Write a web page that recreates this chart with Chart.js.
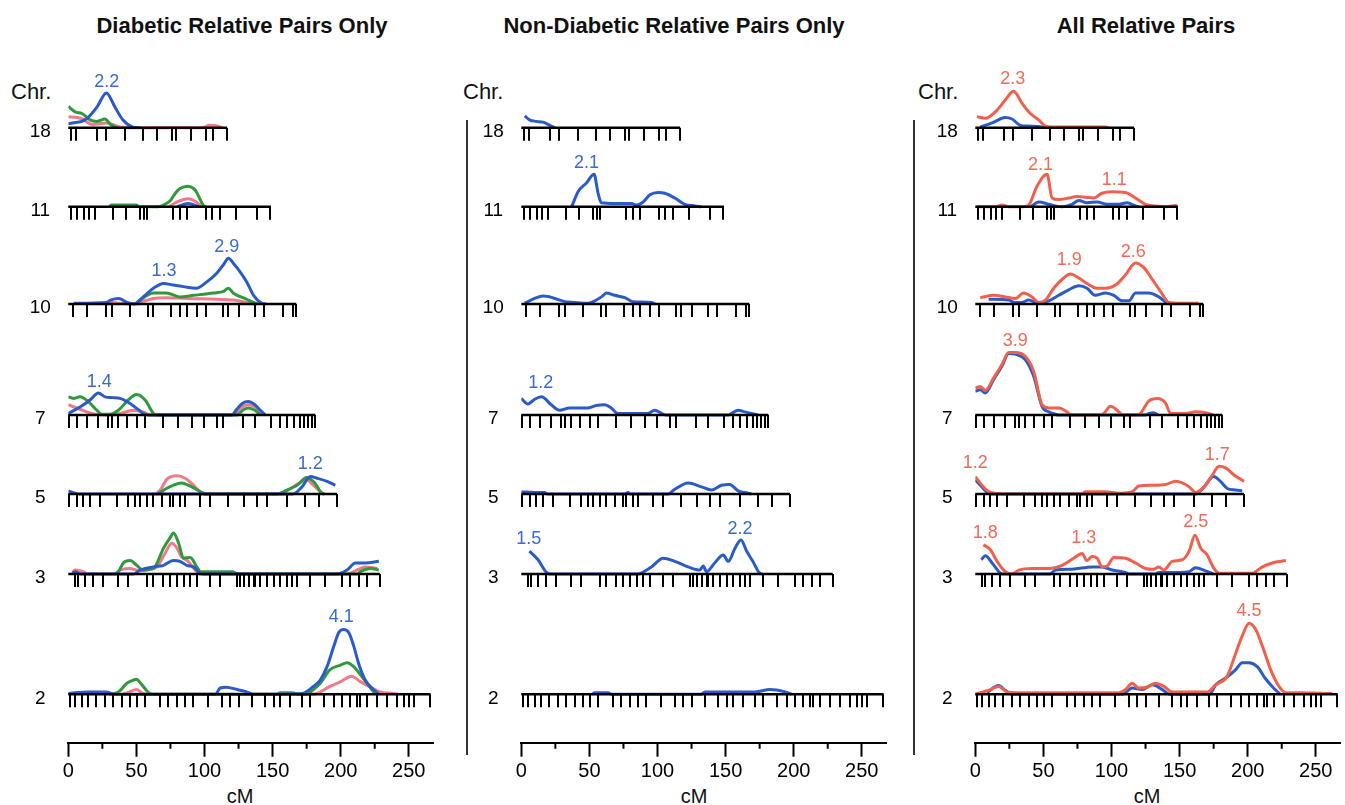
<!DOCTYPE html>
<html lang="en">
<head>
<meta charset="utf-8">
<script src="https://cdn.jsdelivr.net/npm/chart.js@4.4.1/dist/chart.umd.min.js"></script>
<style>
  html, body { margin: 0; padding: 0; background: #fff; }
  body { position: relative; width: 1345px; height: 805px; overflow: hidden;
         font-family: "Liberation Sans", Arial, sans-serif; color: #111; }
  canvas { position: absolute; top: 0; }
  .title { position: absolute; top: 13px; width: 500px; text-align: center;
           font-weight: bold; font-size: 22px; line-height: 26px; }
  .chr { position: absolute; top: 80px; font-size: 22px; line-height: 24px; }
  .cm { position: absolute; top: 785px; width: 60px; text-align: center; font-size: 20px; line-height: 22px; }
  .sep { position: absolute; top: 120px; width: 2px; height: 635px; background: #333; }
</style>
</head>
<body>
<div class="title" style="left:-8px">Diabetic Relative Pairs Only</div>
<div class="title" style="left:424px">Non-Diabetic Relative Pairs Only</div>
<div class="title" style="left:896px">All Relative Pairs</div>
<div class="chr" style="left:11px">Chr.</div>
<div class="chr" style="left:463px">Chr.</div>
<div class="chr" style="left:918px">Chr.</div>
<div class="cm" style="left:210px">cM</div>
<div class="cm" style="left:664px">cM</div>
<div class="cm" style="left:1117px">cM</div>
<div class="sep" style="left:466px"></div>
<div class="sep" style="left:913px"></div>
<canvas id="c1" width="453" height="805" style="left:0px"></canvas>
<canvas id="c2" width="453" height="805" style="left:453.4px"></canvas>
<canvas id="c3" width="453" height="805" style="left:906.7px"></canvas>
<script>
// chromosomes, lengths (cM) and marker positions (cM)
const chromosomes = ['18', '11', '10', '7', '5', '3', '2'];
const chrLength = [116.5, 148.8, 167.4, 181.4, 197.3, 228.7, 266];
const markers18 = [1.7, 5.6, 21.3, 27.7, 41.7, 54.7, 65, 76, 79.2, 90, 101.2, 106.6, 116.4];
const markers11 = [1.7, 6.6, 11.5, 15.4, 19.6, 33.1, 42.4, 52.7, 55.6, 58.1, 77.2, 82.1, 87, 101.2, 105.6, 111.5, 123.3, 138.5, 148.3];
const markers10 = [3.2, 13.5, 27.7, 31.9, 45.3, 58.8, 62.5, 75.2, 82.1, 87, 94.4, 101.2, 113.5, 117.6, 125.7, 137.3, 143.4, 157.6, 165, 167.4];
const markers7 = [0.7, 6.6, 14, 22, 29.4, 31.9, 36.8, 42.9, 50.2, 56.4, 69.9, 80.9, 90.7, 99.3, 109, 113.5, 128.2, 137.3, 148.8, 155.6, 160.5, 165.9, 169.8, 173.3, 175.7, 178.9, 181.4];
const markers5 = [0.5, 6.1, 11, 15.9, 23.3, 35.5, 44.1, 49, 52.7, 57.6, 62.5, 68.6, 74.8, 77.2, 82.1, 85.8, 96.8, 104.2, 117.2, 128.7, 138.5, 145.8, 160.5, 174, 183.8, 197.3];
const markers3 = [4.9, 6.9, 12.3, 18.4, 25.7, 36.8, 44.1, 57.6, 62.5, 69.9, 74.8, 79.7, 84.6, 89.5, 94.4, 104.2, 111.5, 123.8, 126.2, 128.7, 132.4, 136, 137.3, 140.9, 145.8, 150.7, 155.6, 160.5, 164.2, 167.9, 177.7, 188.7, 201, 207.1, 213.2, 219.4, 228.7];
const markers2 = [1.2, 4.9, 9.8, 14.7, 20.3, 26.9, 33.1, 39.2, 45.3, 50.2, 56.4, 67.4, 73.5, 79.7, 85.8, 91.9, 102.9, 112.7, 118.9, 125, 134.8, 144.6, 150.7, 155.6, 163, 171.6, 177.7, 187.5, 194.9, 201, 207.1, 212, 214.5, 219.4, 226.7, 234.1, 241.4, 246.3, 250, 253.7, 265.9];

// bottom cM axis
const cmTicks = [0, 50, 100, 150, 200, 250];
const cmMinorTicks = [25, 75, 125, 175, 225];

// LOD curves, [cM, LOD] — diabetic relative pairs
const dBlue18 = [[0, 0.25], [3, 0.3], [10, 0.4], [14, 0.6], [21, 1.3], [28, 2.2], [34, 1.35], [40, 0.5], [47, 0.05], [52, 0]];
const dGreen18 = [[0, 1.35], [5, 1.0], [10, 0.9], [16, 0.5], [21, 0.4], [27, 0.55], [31, 0.2], [36, 0]];
const dPink18 = [[0, 0.7], [9, 0.6], [18, 0.2], [28, 0.3], [38, 0.05], [45, 0], [98, 0], [104, 0.15], [110, 0.1], [113, 0]];
const dBlue11 = [[80, 0], [88, 0.2], [96, 0]];
const dGreen11 = [[30, 0], [32, 0.1], [50, 0.1], [52, 0], [66, 0], [72, 0.2], [75, 0.4], [79, 0.9], [82, 1.15], [88, 1.3], [92, 1.15], [94, 0.95], [99, 0.1], [101, 0]];
const dPink11 = [[74, 0], [80, 0.3], [88, 0.5], [94, 0.3], [98, 0]];
const dBlue10 = [[4, 0.05], [28, 0.1], [31, 0.25], [37, 0.35], [43, 0.1], [48, 0], [55, 0.45], [62.5, 1.0], [70, 1.3], [77, 1.2], [84.5, 1.1], [94, 1.0], [101.7, 1.4], [109, 1.95], [114, 2.5], [117.6, 2.9], [121, 2.6], [126, 2.05], [131, 1.4], [136, 0.55], [142, 0.05], [145, 0]];
const dGreen10 = [[50, 0], [53, 0.25], [62.5, 0.7], [72, 0.7], [82, 0.45], [92, 0.55], [106.6, 0.7], [114, 0.8], [117.6, 1.0], [121, 0.7], [131, 0.3], [136, 0.1], [139, 0]];
const dPink10 = [[28, 0], [32, 0.1], [36, 0.05], [50, 0], [53, 0.1], [62.5, 0.35], [72, 0.4], [87, 0.35], [109, 0.3], [121, 0.25], [131, 0.1], [136, 0]];
const dBlue7 = [[0, 0.1], [8.6, 0.5], [16, 0.95], [22, 1.4], [27, 1.15], [33, 1.1], [38, 1.05], [43, 0.85], [49, 0.5], [55, 0.1], [58, 0], [120, 0], [124, 0.4], [128, 0.75], [132, 0.85], [137, 0.65], [141, 0.3], [144.6, 0]];
const dGreen7 = [[0, 1.15], [3.7, 1.05], [8.6, 1.15], [14.7, 0.85], [21, 0.3], [24.5, 0.05], [30.6, 0.05], [36.8, 0.3], [44, 0.95], [50.2, 1.3], [56.4, 0.95], [62.5, 0.1], [65, 0], [124, 0], [128, 0.3], [132, 0.45], [137, 0.3], [141, 0]];
const dPink7 = [[0, 0.65], [6, 0.45], [13.5, 0.2], [20, 0.05], [30, 0], [38, 0.1], [47.8, 0.3], [55, 0.2], [60, 0], [122, 0], [126, 0.4], [132, 0.65], [138, 0.45], [142, 0]];
const dBlue5 = [[0, 0.2], [5, 0.05], [8, 0], [165, 0], [171.6, 0.45], [177.7, 1.1], [182.6, 1.0], [190, 0.8], [196, 0.55]];
const dGreen5 = [[66, 0], [72, 0.35], [77, 0.55], [83, 0.7], [90.7, 0.45], [98, 0.1], [101, 0], [153, 0], [160.5, 0.25], [168, 0.55], [175, 1.05], [181, 0.7], [186, 0.05], [188, 0]];
const dPink5 = [[64, 0], [68, 0.3], [72, 0.9], [79.7, 1.15], [85.8, 1.0], [92, 0.55], [96.8, 0.15], [100, 0], [155.6, 0], [163, 0.35], [170, 0.7], [175, 0.9], [180, 0.55], [185, 0.15], [188, 0]];
const dBlue3 = [[3, 0.05], [5, 0.15], [9, 0], [48, 0], [52.7, 0.25], [62.5, 0.45], [70, 0.55], [77, 0.85], [82, 0.8], [87, 0.55], [92, 0.45], [96.8, 0.05], [100, 0], [197, 0], [204.7, 0.25], [210.8, 0.7], [218, 0.7], [228, 0.8]];
const dGreen3 = [[34, 0], [36.8, 0.15], [40.4, 0.7], [45.3, 0.85], [50.2, 0.55], [55, 0.25], [62.5, 0.35], [70, 1.65], [74.8, 2.3], [77.2, 2.6], [81, 1.95], [84.6, 1.0], [89.5, 1.05], [94.4, 0.45], [97, 0.15], [121, 0.15], [124, 0], [212, 0], [214.5, 0.15], [222, 0.35], [228, 0.25]];
const dPink3 = [[3, 0.1], [5, 0.25], [11, 0.15], [14, 0], [34, 0], [38, 0.25], [45, 0.35], [52.7, 0.2], [60, 0.3], [65, 0.45], [71, 1.3], [76, 1.95], [79.7, 1.65], [83, 1.1], [88, 0.8], [93, 0.25], [97, 0], [205, 0], [209.5, 0.15], [218, 0.45], [227, 0.35]];
const dBlue2 = [[0, 0.05], [14.7, 0.15], [28, 0.15], [34, 0], [108, 0], [111.5, 0.4], [116, 0.45], [124, 0.3], [131, 0.15], [136, 0], [171.6, 0.05], [180, 0.5], [185, 0.9], [190, 1.75], [195, 3.05], [198.5, 3.9], [202, 4.1], [206, 3.9], [209.6, 3.05], [213, 2.0], [218, 0.9], [224, 0.3], [228, 0]];
const dGreen2 = [[30, 0], [36.8, 0.15], [43, 0.7], [47.8, 0.9], [50, 0.95], [54, 0.6], [59, 0.1], [62, 0], [153, 0], [155.6, 0.1], [164, 0.1], [170, 0], [175, 0], [180, 0.3], [185, 0.7], [192, 1.55], [200, 1.85], [204.7, 2.0], [209.6, 1.75], [215.7, 1.1], [222, 0.4], [225.5, 0]];
const dPink2 = [[40, 0], [45, 0.15], [50, 0.3], [55, 0.05], [58, 0], [178, 0], [182.6, 0.05], [192, 0.5], [200, 0.8], [208, 1.15], [214.5, 0.8], [222, 0.45], [229, 0.15], [239, 0.05], [242, 0]];

// non-diabetic relative pairs
const nBlue18 = [[2.5, 0.75], [6, 0.5], [11, 0.4], [16, 0.35], [21, 0.15], [24.5, 0]];
const nBlue11 = [[37, 0], [41.7, 0.95], [47.8, 1.5], [53.4, 2.05], [56.4, 0.85], [58.8, 0.25], [68.6, 0.2], [81, 0.2], [84.6, 0.1], [89.5, 0.3], [94.4, 0.75], [100.5, 0.9], [105.4, 0.85], [112.7, 0.55], [120, 0.15], [127.5, 0.05], [132, 0]];
const nBlue10 = [[2.5, 0.05], [9.8, 0.35], [16, 0.5], [23, 0.4], [32, 0.15], [39, 0.1], [49, 0.05], [54, 0.2], [58.8, 0.45], [62.5, 0.7], [68.6, 0.55], [76, 0.4], [82, 0.15], [95.6, 0.1], [98, 0]];
const nBlue7 = [[0, 1.05], [4.9, 0.7], [9.8, 1.0], [14.7, 1.15], [22, 0.65], [28, 0.3], [35.5, 0.45], [49, 0.45], [55, 0.6], [61, 0.65], [66, 0.45], [71, 0.1], [93, 0.1], [98, 0.3], [103, 0.1], [106, 0], [152, 0], [154.4, 0.1], [159.3, 0.3], [164, 0.2], [171.6, 0.05], [174, 0]];
const nBlue5 = [[0, 0.15], [9.8, 0.1], [17, 0.1], [19, 0], [76, 0], [78.4, 0.1], [80, 0], [107.8, 0], [112.7, 0.3], [122.5, 0.7], [132.4, 0.45], [139.7, 0.25], [147, 0.55], [153, 0.6], [159.3, 0.2], [166.7, 0.05], [169, 0]];
const nBlue3 = [[6, 1.45], [12.3, 0.9], [18.4, 0.1], [21, 0], [86, 0], [88, 0.05], [95.6, 0.45], [104.2, 1.0], [112.7, 0.8], [122.5, 0.45], [131, 0.25], [133.6, 0.5], [136, 0.15], [142, 0.7], [148.3, 1.2], [152, 0.8], [157, 1.65], [161.3, 2.15], [165.4, 1.45], [170, 0.8], [175, 0.05], [177, 0]];
const nBlue2 = [[52, 0], [54, 0.1], [63.7, 0.1], [66, 0], [132, 0], [134.8, 0.15], [171.6, 0.15], [182.6, 0.3], [193.6, 0.15], [198.5, 0]];

// all relative pairs
const aRed18 = [[1.2, 0.7], [7.4, 0.6], [14.7, 1.0], [22, 1.75], [28.2, 2.3], [34.3, 1.55], [40.4, 0.9], [46.6, 0.5], [51.5, 0.1], [56, 0.05], [95.6, 0.05], [98, 0]];
const aBlue18 = [[3.7, 0.05], [12.3, 0.3], [22, 0.65], [27, 0.55], [33, 0.15], [39, 0.1], [49, 0.05], [52, 0]];
const aRed11 = [[1.2, 0], [15, 0], [19.6, 0.1], [25, 0], [35, 0], [39.2, 0.1], [45.3, 1.3], [52.7, 2.05], [56.4, 0.55], [61.3, 0.45], [68.6, 0.55], [74.8, 0.65], [81, 0.6], [87, 0.55], [93, 0.85], [100.5, 0.95], [110.3, 0.9], [117.6, 0.55], [125, 0.15], [132, 0.05], [139.7, 0], [145, 0.05], [148, 0.1]];
const aBlue11 = [[41, 0], [46.6, 0.3], [54, 0.15], [63.7, 0], [71, 0.15], [76, 0.4], [82, 0.25], [89.5, 0.3], [96.8, 0.15], [105.4, 0.15], [111.5, 0.25], [117.6, 0.05], [120, 0]];
const aRed10 = [[3.7, 0.4], [13.5, 0.55], [22, 0.45], [29.4, 0.35], [35.5, 0.7], [41.7, 0.45], [46.6, 0.1], [51.5, 0.25], [57.6, 1.0], [63.7, 1.55], [69.9, 1.9], [76, 1.65], [82, 1.3], [89.5, 1.0], [95.6, 1.0], [103, 1.2], [110.3, 1.85], [117.6, 2.6], [123.8, 2.3], [130, 1.55], [136, 0.8], [142, 0.1], [150, 0.05], [164, 0.05]];
const aBlue10 = [[9.8, 0.3], [24.5, 0.25], [29, 0.1], [34, 0.1], [39.2, 0.25], [46, 0.05], [54, 0.2], [61.3, 0.55], [68.6, 0.9], [76, 1.15], [82, 1.0], [88, 0.55], [95.6, 0.7], [101.7, 0.55], [107.8, 0.2], [112.7, 0.2], [117.6, 0.7], [127.5, 0.7], [134.8, 0.45], [141, 0.05], [144, 0]];
const aRed7 = [[0, 1.7], [3.7, 1.8], [7.4, 1.55], [13.5, 2.35], [19.6, 3.2], [24.5, 3.95], [29.4, 3.95], [36.8, 3.7], [42.9, 2.75], [49, 0.65], [54, 0.45], [61.3, 0.45], [67.4, 0.2], [70, 0], [92, 0], [94.4, 0.1], [99.3, 0.55], [105.4, 0.2], [108, 0], [119, 0], [121.3, 0.1], [127.5, 0.9], [133.6, 1.05], [139.7, 0.75], [143.4, 0.1], [154.4, 0.1], [161.8, 0.2], [169, 0.15], [175, 0]];
const aBlue7 = [[0, 1.5], [3.7, 1.6], [7.4, 1.4], [13.5, 2.25], [19.6, 3.1], [24.5, 3.9], [29.4, 3.85], [36.8, 3.5], [42.9, 2.45], [49, 0.55], [54, 0.2], [58.8, 0.05], [61, 0], [125, 0], [127.5, 0.1], [131, 0.15], [134, 0]];
const aRed5 = [[0, 1.1], [4.9, 0.55], [9.8, 0.15], [14, 0.05], [20, 0], [78, 0], [80.9, 0.15], [95.6, 0.15], [105.4, 0.05], [115.2, 0.15], [120, 0.5], [130, 0.55], [139.7, 0.6], [147, 0.8], [152, 0.7], [157, 0.45], [161.8, 0.1], [168, 0.45], [174, 1.2], [179, 1.75], [183.8, 1.65], [190, 1.2], [197.3, 0.8]];
const aBlue5 = [[0, 0.9], [4.9, 0.45], [8.6, 0.1], [11, 0], [161.8, 0], [168, 0.45], [175, 1.1], [180, 0.8], [185, 0.35], [191, 0.25], [196, 0.2]];
const aRed3 = [[6, 1.85], [11, 1.55], [16, 0.8], [22, 0.15], [27, 0], [32, 0.25], [41.7, 0.35], [54, 0.35], [63.7, 0.55], [72.3, 1.0], [78.4, 1.3], [82, 0.85], [85.8, 1.1], [89.5, 1.0], [93, 0.45], [96.8, 0.5], [101.7, 1.05], [110.3, 1.0], [117.6, 0.7], [125, 0.35], [131, 0.3], [134.8, 0.45], [138.5, 0.25], [144.6, 0.8], [152, 0.9], [157, 1.45], [161.3, 2.45], [165.4, 1.65], [170.3, 1.2], [175.2, 0.35], [179, 0.05], [203.4, 0.05], [210.8, 0.45], [218, 0.7], [228, 0.85]];
const aBlue3 = [[4.4, 0.9], [7.4, 1.15], [12.3, 0.7], [18.4, 0.05], [20, 0], [55, 0], [58.8, 0.25], [71, 0.3], [85.8, 0.45], [93, 0.45], [100.5, 0.25], [110, 0.1], [113, 0], [132, 0], [134.8, 0.1], [150, 0.1], [157, 0.15], [161.8, 0.4], [169, 0.2], [175, 0]];
const aRed2 = [[0, 0], [11, 0.3], [17, 0.5], [23.3, 0.15], [30, 0.1], [68.6, 0.1], [105.4, 0.1], [110.3, 0.3], [115.2, 0.7], [120, 0.4], [126.2, 0.45], [132.4, 0.7], [138.5, 0.5], [144.6, 0.15], [157, 0.15], [170.3, 0.15], [176.5, 0.6], [185, 1.15], [190, 2.3], [196, 3.7], [201, 4.5], [205.9, 4.1], [210.8, 3.05], [216.9, 1.55], [223, 0.5], [228, 0.1], [237.7, 0.1], [262, 0.05]];
const aBlue2 = [[8.6, 0.1], [17, 0.55], [22, 0.25], [27, 0], [107.8, 0], [115.2, 0.4], [122.5, 0.3], [130, 0.6], [137.3, 0.3], [143, 0], [172, 0], [176.5, 0.6], [185, 1.1], [191, 1.55], [196, 2.0], [201, 2.0], [207, 1.75], [213, 1.0], [219, 0.4], [224, 0]];

// peak labels: [chromosome, cM, LOD, text]
const dLabels = [['18', 28.2, 2.1, '2.2'], ['10', 70.3, 1.34, '1.3'], ['10', 116.4, 2.87, '2.9'], ['7', 22.8, 1.33, '1.4'], ['5', 177.7, 1.15, '1.2'], ['2', 200.5, 4.1, '4.1']];
const nLabels = [['11', 47.8, 2.0, '2.1'], ['7', 14.2, 1.25, '1.2'], ['3', 5.4, 1.45, '1.5'], ['3', 160.5, 2.1, '2.2']];
const aLabels = [['18', 27.5, 2.3, '2.3'], ['11', 47.8, 1.9, '2.1'], ['11', 102, 0.9, '1.1'], ['10', 69, 2.0, '1.9'], ['10', 116, 2.55, '2.6'], ['7', 29.4, 3.95, '3.9'], ['5', 0, 1.2, '1.2'], ['5', 177.7, 1.7, '1.7'], ['3', 7.3, 1.85, '1.8'], ['3', 79.6, 1.5, '1.3'], ['3', 161.8, 2.55, '2.5'], ['2', 201, 4.5, '4.5']];

// layout
const BLUE = '#2b5bc8', GREEN = '#2f9a3c', PINK = '#f07a8a', RED = '#f0604c';
const BLUE_TEXT = '#3a6ad2', RED_TEXT = '#f26a55';
const FONT = '"Liberation Sans", Arial, sans-serif';
const PX_PER_LOD = 15.8;
const AXIS_Y = 742.7;
const trackY = [127.7, 206.7, 304, 415, 494, 574, 694.3];
const offsets = trackY.map(y => (AXIS_Y - y) / PX_PER_LOD);
const markerSets = [markers18, markers11, markers10, markers7, markers5, markers3, markers2];

const trackPlugin = {
  id: 'tracks',
  afterDatasetsDraw(chart) {
    const { ctx, scales: { x, y } } = chart;
    const labels = chart.options.plugins.tracks.labels;
    const labelColor = chart.options.plugins.tracks.labelColor;
    ctx.save();
    chromosomes.forEach((name, i) => {
      const yb = y.getPixelForValue(offsets[i]);
      const x0 = x.getPixelForValue(0);
      ctx.strokeStyle = '#000';
      ctx.lineWidth = 2.4;
      ctx.beginPath();
      ctx.moveTo(x0, yb);
      ctx.lineTo(x.getPixelForValue(chrLength[i]), yb);
      ctx.stroke();
      ctx.lineWidth = 2;
      ctx.beginPath();
      markerSets[i].forEach(m => {
        const px = Math.round(x.getPixelForValue(m));
        ctx.moveTo(px, yb);
        ctx.lineTo(px, yb + 13);
      });
      ctx.stroke();
      ctx.fillStyle = '#000';
      ctx.font = '19px ' + FONT;
      ctx.textAlign = 'center';
      ctx.textBaseline = 'middle';
      ctx.fillText(name, x0 - 28, yb + 4);
    });
    // minor ticks of the cM axis
    ctx.strokeStyle = '#000';
    ctx.lineWidth = 2;
    ctx.beginPath();
    cmMinorTicks.forEach(v => {
      const px = x.getPixelForValue(v);
      ctx.moveTo(px, AXIS_Y);
      ctx.lineTo(px, AXIS_Y + 6);
    });
    ctx.stroke();
    // peak LOD labels
    ctx.font = '18px ' + FONT;
    ctx.fillStyle = labelColor;
    labels.forEach(([chr, cm, lod, text]) => {
      const i = chromosomes.indexOf(chr);
      ctx.fillText(text, x.getPixelForValue(cm), y.getPixelForValue(offsets[i] + lod) - 12);
    });
    ctx.restore();
  }
};

function makePanel(id, series, labels, labelColor) {
  const datasets = [];
  series.forEach(s => {
    s.curves.forEach((curve, i) => {
      datasets.push({
        data: curve.map(([cm, lod]) => ({ x: cm, y: offsets[i] + lod })),
        borderColor: s.color,
        borderWidth: 3,
        pointRadius: 0,
        fill: false,
        cubicInterpolationMode: 'monotone',
        tension: 0.3
      });
    });
  });

  new Chart(document.getElementById(id), {
    type: 'line',
    data: { datasets },
    options: {
      responsive: false,
      animation: false,
      events: [],
      layout: { padding: { left: 68.3, right: 19.7, top: 0, bottom: 0 }, autoPadding: false },
      plugins: {
        legend: { display: false },
        tooltip: { enabled: false },
        tracks: { labels, labelColor }
      },
      scales: {
        x: {
          type: 'linear',
          min: 0,
          max: 268,
          border: { display: true, color: '#000', width: 2 },
          grid: { display: true, drawOnChartArea: false, drawTicks: true, tickLength: 14, tickWidth: 2, tickColor: '#000' },
          ticks: {
            stepSize: 50,
            includeBounds: false,
            autoSkip: false,
            maxRotation: 0,
            padding: 3,
            color: '#000',
            font: { family: FONT, size: 20 },
            callback: v => (cmTicks.includes(v) ? String(v) : '')
          },
          afterFit(scale) {
            scale.height = 805 - AXIS_Y;
            scale.paddingLeft = 0;
            scale.paddingRight = 0;
          }
        },
        y: {
          type: 'linear',
          display: false,
          min: 0,
          max: AXIS_Y / PX_PER_LOD
        }
      }
    },
    plugins: [trackPlugin]
  });
}

makePanel('c1', [
  { color: BLUE, curves: [dBlue18, dBlue11, dBlue10, dBlue7, dBlue5, dBlue3, dBlue2] },
  { color: GREEN, curves: [dGreen18, dGreen11, dGreen10, dGreen7, dGreen5, dGreen3, dGreen2] },
  { color: PINK, curves: [dPink18, dPink11, dPink10, dPink7, dPink5, dPink3, dPink2] }
], dLabels, BLUE_TEXT);

makePanel('c2', [
  { color: BLUE, curves: [nBlue18, nBlue11, nBlue10, nBlue7, nBlue5, nBlue3, nBlue2] }
], nLabels, BLUE_TEXT);

makePanel('c3', [
  { color: RED, curves: [aRed18, aRed11, aRed10, aRed7, aRed5, aRed3, aRed2] },
  { color: BLUE, curves: [aBlue18, aBlue11, aBlue10, aBlue7, aBlue5, aBlue3, aBlue2] }
], aLabels, RED_TEXT);
</script>
</body>
</html>
